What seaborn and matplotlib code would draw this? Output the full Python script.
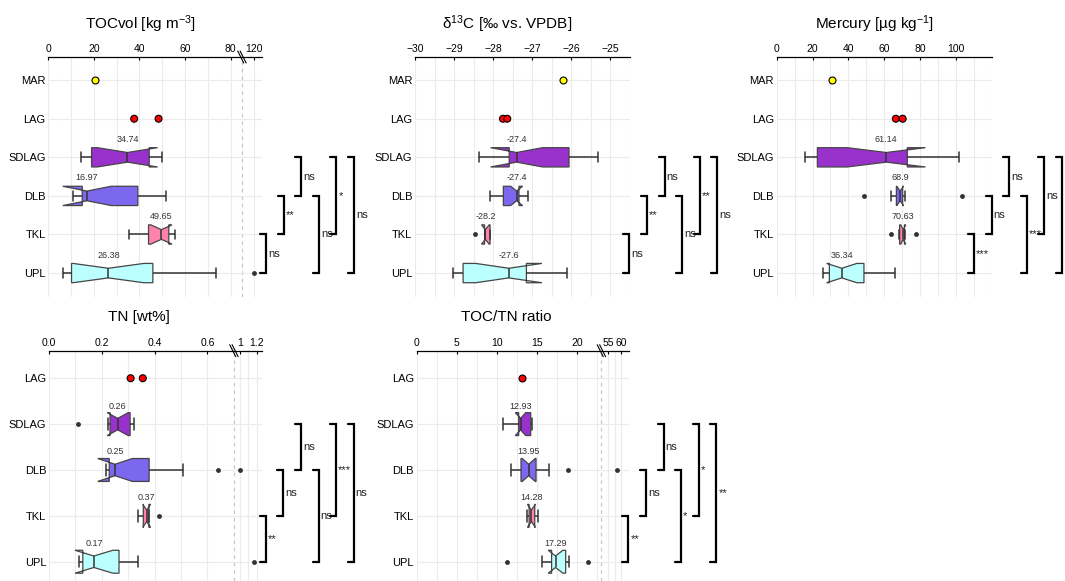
import numpy as np
import pandas as pd
import matplotlib.pyplot as plt
import seaborn as sns

sns.set_theme(style="white")
plt.rcParams["font.family"] = ["Liberation Sans", "DejaVu Sans"]
plt.rcParams["mathtext.fontset"] = "custom"
plt.rcParams["mathtext.rm"] = "Liberation Sans"
plt.rcParams["mathtext.default"] = "regular"

# sites top to bottom and their colours
sites = ["MAR", "LAG", "SDLAG", "DLB", "TKL", "UPL"]
box_sites = ["SDLAG", "DLB", "TKL", "UPL"]
site_colors = {"MAR": "#FFFF00", "LAG": "#FF0000", "SDLAG": "#9932CC",
               "DLB": "#7B68EE", "TKL": "#FF82AB", "UPL": "#BBFFFF"}

# TOCvol [kg m-3]
toc_mar = [20.7]
toc_lag = [37.7, 48.4]
toc_sdlag = [14.4, 17.0, 19.0, 28.0, 34.74, 40.0, 44.3, 47.0, 49.8]
toc_dlb = [11.0, 12.5, 13.8, 14.9, 15.5, 16.2, 16.97, 22.0, 30.0, 39.3, 44.0, 48.0, 51.6]
toc_tkl = [35.3, 40.0, 44.0, 47.0, 49.65, 51.0, 52.9, 54.0, 55.7]
toc_upl = [6.6, 8.0, 9.0, 10.2, 14.0, 20.0, 26.38, 31.0, 38.0, 45.9, 55.0, 73.7, 120.0]

# d13C [permil vs VPDB]
d13c_mar = [-26.22]
d13c_lag = [-27.75, -27.64]
d13c_sdlag = [-28.36, -28.1, -27.8, -27.59, -27.5, -27.45, -27.4, -27.1, -26.6, -26.06, -25.9, -25.6, -25.32]
d13c_dlb = [-28.09, -27.95, -27.85, -27.8, -27.74, -27.65, -27.55, -27.48, -27.4,
            -27.39, -27.37, -27.35, -27.34, -27.28, -27.2, -27.15, -27.1]
d13c_tkl = [-28.47, -28.22, -28.2, -28.08, -28.07]
d13c_upl = [-29.02, -28.9, -28.77, -28.2, -27.6, -27.4, -27.15, -26.5, -26.11]

# Mercury [ug kg-1]
hg_mar = [30.7]
hg_lag = [66.5, 70.3]
hg_sdlag = [15.8, 18.0, 20.5, 22.7, 35.0, 50.0, 61.14, 65.0, 70.0, 72.9, 80.0, 92.0, 101.9]
hg_dlb = [48.6, 63.7, 66.8, 67.8, 68.9, 69.6, 70.3, 71.8, 103.5]
hg_tkl = [63.7, 68.3, 68.6, 69.8, 70.63, 71.0, 71.3, 71.5, 77.6]
hg_upl = [26.0, 27.0, 28.5, 29.4, 31.0, 34.0, 36.34, 39.0, 44.0, 48.7, 53.0, 60.0, 66.0]

# TN [wt%]
tn_lag = [0.309, 0.355]
tn_sdlag = [0.109, 0.222, 0.231, 0.245, 0.26, 0.285, 0.307, 0.315, 0.322]
tn_dlb = [0.216, 0.22, 0.225, 0.228, 0.235, 0.242, 0.25, 0.28, 0.33, 0.379, 0.506, 0.641, 1.0]
tn_tkl = [0.338, 0.357, 0.37, 0.378, 0.417]
tn_upl = [0.112, 0.12, 0.128, 0.15, 0.17, 0.2, 0.265, 0.336, 1.17]

# TOC/TN ratio
ratio_lag = [13.07]
ratio_sdlag = [10.7, 11.5, 12.3, 12.7, 12.8, 12.88, 12.93, 13.3, 13.8, 14.2, 14.25, 14.3, 14.32]
ratio_dlb = [11.74, 12.3, 12.7, 12.99, 13.4, 13.7, 13.95, 14.3, 14.6, 14.86, 16.48, 18.88, 58.4]
ratio_tkl = [13.7, 14.0, 14.28, 14.7, 15.07]
ratio_upl = [11.28, 15.57, 16.8, 17.0, 17.29, 17.9, 18.55, 18.97, 21.37]

# pairwise tests, drawn from the inner bracket outwards
pairs = [("TKL", "UPL"), ("DLB", "TKL"), ("SDLAG", "DLB"),
         ("DLB", "UPL"), ("SDLAG", "TKL"), ("SDLAG", "UPL")]
sig_toc = ["ns", "**", "ns", "ns", "*", "ns"]
sig_d13c = ["ns", "**", "ns", "ns", "**", "ns"]
sig_hg = ["***", "ns", "ns", "***", "ns", "ns"]
sig_tn = ["**", "ns", "ns", "ns", "***", "ns"]
sig_ratio = ["**", "ns", "ns", "*", "*", "**"]

W, H = 1065, 581


def make_break(a, b, r):
    # squeeze the empty range (a, b) to nothing, compress values above b by r
    e = 1e-6

    def fwd(x):
        x = np.asarray(x, float)
        return np.where(x <= a, x, np.where(x >= b, a + e + (x - b) * r,
                                            a + (x - a) / (b - a) * e))

    def inv(y):
        y = np.asarray(y, float)
        return np.where(y <= a, y, np.where(y >= a + e, b + (y - a - e) / r,
                                            a + (y - a) / e * (b - a)))
    return fwd, inv


def draw_panel(rect, cats, data, title, title_x, title_y, xlim, ticks, ticklabels,
               grid, brk, sig, sig_x0):
    ax = fig.add_axes([rect[0] / W, 1 - rect[3] / H, (rect[1] - rect[0]) / W,
                       (rect[3] - rect[2]) / H])
    df = pd.DataFrame([(s, v) for s in cats for v in data[s]], columns=["site", "value"])
    box_df = df[df["site"].isin(box_sites)]
    pt_df = df[~df["site"].isin(box_sites)]

    sns.boxplot(data=box_df, x="value", y="site", order=cats, hue="site",
                palette=site_colors, legend=False, notch=True, width=0.5,
                saturation=1, linecolor="#454545", linewidth=0.9,
                flierprops=dict(marker="o", markerfacecolor="#333333",
                                markeredgecolor="none", markersize=3.5),
                whiskerprops=dict(color="#333333", linewidth=1.1),
                capprops=dict(color="#333333", linewidth=1.1),
                medianprops=dict(color="#333333", linewidth=1.1), ax=ax)
    sns.stripplot(data=pt_df, x="value", y="site", order=cats, hue="site",
                  palette=site_colors, legend=False, jitter=False, size=5,
                  edgecolor="black", linewidth=0.8, ax=ax, zorder=4)

    # median labels
    for s in box_sites:
        m = np.median(data[s])
        ax.annotate(f"{round(m, 2):g}", (m, cats.index(s)), xytext=(0, 13),
                    textcoords="offset points", ha="center", va="center",
                    fontsize=6.5, color="#333333")

    if brk is not None:
        fwd, inv = make_break(*brk)
        ax.set_xscale("function", functions=(fwd, inv))
    ax.set_xlim(*xlim)
    ax.set_ylim(len(cats) - 1 + (0.62 if len(cats) == 6 else 0.42), -0.6)

    ax.set_xticks(ticks)
    ax.set_xticklabels(ticklabels)
    ax.set_xticks(grid, minor=True)
    ax.xaxis.tick_top()
    ax.tick_params(axis="x", which="major", direction="in", length=2.5, width=0.8,
                   pad=2, labelsize=7.5, colors="black")
    ax.tick_params(axis="x", which="minor", length=0)
    ax.tick_params(axis="y", length=0, pad=2, labelsize=8, colors="black")
    ax.set_xlabel("")
    ax.set_ylabel("")
    ax.grid(True, axis="x", which="both", color="#ebebeb", linewidth=0.8)
    ax.grid(True, axis="y", which="major", color="#ebebeb", linewidth=0.8)
    ax.set_axisbelow(True)
    for sp in ["left", "right", "bottom"]:
        ax.spines[sp].set_visible(False)
    ax.spines["top"].set_color("black")
    ax.spines["top"].set_linewidth(0.9)

    wpx = rect[1] - rect[0]
    hpx = rect[3] - rect[2]
    if brk is not None:
        ax.axvline(brk[0], color="#c8c8c8", linestyle=(0, (3, 3)), linewidth=0.9,
                   zorder=0.5)
        lo, hi = ax.transScale.transform([[xlim[0], 0], [xlim[1], 0]])[:, 0]
        bx = (ax.transScale.transform([[brk[0], 0]])[0, 0] - lo) / (hi - lo)
        for off in (-1.2, 1.2):
            cx = bx + off / wpx
            ax.plot([cx - 3 / wpx, cx + 3 / wpx], [1 + 6 / hpx, 1 - 6 / hpx],
                    transform=ax.transAxes, color="black", linewidth=0.8,
                    clip_on=False)

    # significance brackets
    tr = ax.get_yaxis_transform()
    for k, ((s1, s2), lab) in enumerate(zip(pairs, sig)):
        xb = 1 + (sig_x0 + 17.6 * k) / wpx
        y1, y2 = cats.index(s1), cats.index(s2)
        ax.plot([xb - 6 / wpx, xb, xb, xb - 6 / wpx], [y1, y1, y2, y2],
                transform=tr, color="black", linewidth=1.6, clip_on=False,
                solid_joinstyle="miter")
        ax.text(xb + 2 / wpx, (y1 + y2) / 2, lab, transform=tr, ha="left",
                va="center", fontsize=8, color="#222222", clip_on=False)

    fig.text(title_x / W, 1 - title_y / H, title, ha="center", va="center",
             fontsize=11, color="black")
    return ax


fig = plt.figure(figsize=(W / 100, H / 100), dpi=100)

draw_panel((48.3, 261.7, 57, 297), sites,
           {"MAR": toc_mar, "LAG": toc_lag, "SDLAG": toc_sdlag, "DLB": toc_dlb,
            "TKL": toc_tkl, "UPL": toc_upl},
           "TOCvol [kg m$^{-3}$]", 141, 24, (0, 131),
           [0, 20, 40, 60, 80, 120], ["0", "20", "40", "60", "80", "120"],
           [0, 10, 20, 30, 40, 50, 60, 70, 80, 120], (85, 103, 0.31), sig_toc, 4.3)

draw_panel((415, 630, 57, 297), sites,
           {"MAR": d13c_mar, "LAG": d13c_lag, "SDLAG": d13c_sdlag, "DLB": d13c_dlb,
            "TKL": d13c_tkl, "UPL": d13c_upl},
           "δ$^{13}$C [‰ vs. VPDB]", 506.7, 24, (-30, -24.5),
           [-30, -29, -28, -27, -26, -25],
           ["\u221230", "\u221229", "\u221228", "\u221227", "\u221226", "\u221225"],
           [-30, -29.5, -29, -28.5, -28, -27.5, -27, -26.5, -26, -25.5, -25, -24.5],
           None, sig_d13c, -0.7)

draw_panel((776.7, 991.7, 57, 297), sites,
           {"MAR": hg_mar, "LAG": hg_lag, "SDLAG": hg_sdlag, "DLB": hg_dlb,
            "TKL": hg_tkl, "UPL": hg_upl},
           "Mercury [µg kg$^{-1}$]", 874.7, 24, (0, 120),
           [0, 20, 40, 60, 80, 100], ["0", "20", "40", "60", "80", "100"],
           list(range(0, 121, 10)), None, sig_hg, -17.7)

draw_panel((49, 261.7, 350.7, 581), sites[1:],
           {"LAG": tn_lag, "SDLAG": tn_sdlag, "DLB": tn_dlb, "TKL": tn_tkl,
            "UPL": tn_upl},
           "TN [wt%]", 139, 316.7, (0, 1.26),
           [0, 0.2, 0.4, 0.6, 1.0, 1.2], ["0.0", "0.2", "0.4", "0.6", "1", "1.2"],
           [0, 0.1, 0.2, 0.3, 0.4, 0.5, 0.6, 1.0, 1.1, 1.2], (0.7, 0.925, 0.314),
           sig_tn, 4.0)

draw_panel((416.7, 629.3, 350.7, 581), sites[1:],
           {"LAG": ratio_lag, "SDLAG": ratio_sdlag, "DLB": ratio_dlb,
            "TKL": ratio_tkl, "UPL": ratio_upl},
           "TOC/TN ratio", 506.7, 316.7, (0, 63),
           [0, 5, 10, 15, 20, 55, 60], ["0", "5", "10", "15", "20", "55", "60"],
           [0, 2.5, 5, 7.5, 10, 12.5, 15, 17.5, 20, 22.5, 55, 57.5, 60],
           (23, 52.5, 0.331), sig_ratio, -1.0)

fig.savefig("out.png", dpi=100)
